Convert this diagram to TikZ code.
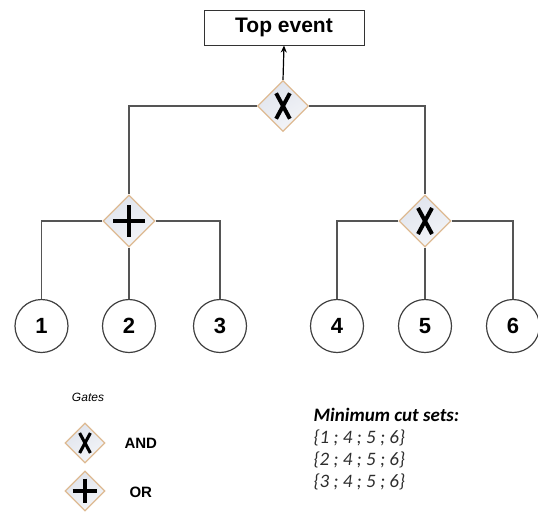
\documentclass[tikz,border=0pt]{standalone}
\usepackage{fontspec}
\setmainfont{Liberation Sans}
\newfontfamily\cutfont{Carlito}
\usetikzlibrary{shapes.geometric,arrows.meta}

\definecolor{wiregray}{RGB}{85,85,85}
\definecolor{gatefill}{RGB}{224,228,237}
\definecolor{gatelight}{RGB}{244,245,248}
\definecolor{gateedge}{RGB}{222,186,146}
\definecolor{settext}{RGB}{45,45,45}

\tikzset{
  wire/.style={draw=wiregray, line width=1.3pt},
  eventbox/.style={draw=black!80, line width=1pt, minimum width=160pt, minimum height=35pt,
    inner sep=0pt, font=\fontsize{21}{25}\selectfont\bfseries},
  basic/.style={circle, draw=black!75, line width=1.2pt, minimum size=53pt, inner sep=0pt,
    font=\fontsize{22}{26}\selectfont\bfseries},
  gatebox/.style={diamond, aspect=1, draw=gateedge, line width=1.2pt, inner sep=0pt,
    top color=gatefill, bottom color=gatelight, shading angle=30,
    minimum width=#1*52pt, minimum height=#1*52pt},
  xsym/.style={path picture={
    \draw[black, line width=#1*4pt, shift={(path picture bounding box.center)}]
      (-#1*7,-#1*13) -- (#1*7,#1*13) (#1*7,-#1*13) -- (-#1*7,#1*13);}},
  plussym/.style={path picture={
    \draw[black, line width=#1*4.2pt, shift={(path picture bounding box.center)}]
      (0,-#1*16) -- (0,#1*16) (-#1*16,0) -- (#1*16,0);}},
  andgate/.style={gatebox=#1, xsym=#1},
  orgate/.style={gatebox=#1, plussym=#1},
  legendtext/.style={font=\fontsize{15}{18}\selectfont\bfseries, anchor=west},
  settitle/.style={font=\cutfont\fontsize{19}{22}\selectfont\bfseries\itshape, anchor=west},
  setline/.style={font=\cutfont\fontsize{19}{22}\selectfont\itshape, text=settext, anchor=west},
}

\begin{document}
\begin{tikzpicture}[x=1pt, y=-1pt]
  \useasboundingbox (0,0) rectangle (538,514);

  % top event and gates
  \node[eventbox] (top) at (284,27.5) {Top event};
  \node[andgate=0.98] (g0) at (283,106) {};
  \node[orgate=1]     (g1) at (129,221) {};
  \node[andgate=1]    (g2) at (425,221) {};

  % basic events
  \node[basic] (e1) at (41.5,326) {1};
  \node[basic] (e2) at (129,326) {2};
  \node[basic] (e3) at (220,326) {3};
  \node[basic] (e4) at (337,326) {4};
  \node[basic] (e5) at (425,326) {5};
  \node[basic] (e6) at (513,326) {6};

  % connectors
  \draw[-{Stealth[length=7pt,width=6pt]}, line width=1.2pt] (g0.north) -- (top.south);
  \draw[wire] (g0.west) -| (g1.north);
  \draw[wire] (g0.east) -| (g2.north);
  \draw[wire] (g1.west) -| (e1.north);
  \draw[wire] (g1.south) -- (e2.north);
  \draw[wire] (g1.east) -| (e3.north);
  \draw[wire] (g2.west) -| (e4.north);
  \draw[wire] (g2.south) -- (e5.north);
  \draw[wire] (g2.east) -| (e6.north);

  % legend
  \node[font=\fontsize{12}{14}\selectfont\itshape] (gl) at (88,397) {Gates};
  \node[andgate=0.77] (la) at (85,443) {};
  \node[legendtext] (lat) at (121,443) {AND};
  \node[orgate=0.77] (lo) at (85,491) {};
  \node[legendtext] (lot) at (126,492) {OR};

  % minimal cut sets
  \node[settitle] (ct) at (310,415) {Minimum cut sets:};
  \node[setline] (c1) at (310,438) {\{1 ; 4 ; 5 ; 6\}};
  \node[setline] (c2) at (310,460) {\{2 ; 4 ; 5 ; 6\}};
  \node[setline] (c3) at (310,482) {\{3 ; 4 ; 5 ; 6\}};
\end{tikzpicture}
\end{document}
